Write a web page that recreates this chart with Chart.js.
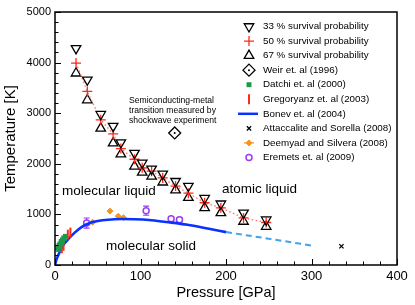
<!DOCTYPE html>
<html>
<head>
<meta charset="utf-8">
<script src="https://cdn.jsdelivr.net/npm/chart.js@4/dist/chart.umd.min.js"></script>
<style>
  html, body { margin: 0; padding: 0; background: #fff; }
</style>
</head>
<body>
<canvas id="chart" width="415" height="305"></canvas>
<script>
// ── Data ──
const survivalP = [24.6, 37.8, 53.5, 68, 77, 93, 102, 113, 126, 141, 156, 175, 194, 220.5, 247];
const t33 = [4280, 3660, 2980, 2745, 2420, 2210, 2020, 1900, 1800, 1655, 1560, 1320, 1210, 1030, 895];
const t50 = [3990, 3430, 2870, 2590, 2300, 2090, 1920, 1855, 1720, 1560, 1420, 1230, 1130, 930, 840];
const t67 = [3790, 3260, 2700, 2410, 2190, 1950, 1830, 1750, 1635, 1480, 1330, 1130, 1030, 860, 760];

const weirP = [140];
const weirT = [2610];

const datchiP = [3, 4, 4.5, 5.5, 6, 7, 7.5, 8.5, 9, 10, 11, 12];
const datchiT = [330, 300, 390, 420, 360, 470, 430, 500, 460, 540, 520, 570];

const gregP = [8, 10, 15, 18];
const gregT = [330, 380, 600, 640];

const bonevP = [0, 2, 4, 8, 15, 23, 31, 40, 50, 62, 78, 93, 110, 130, 155, 180, 200];
const bonevT = [0, 120, 200, 350, 500, 640, 750, 825, 868, 895, 908, 905, 890, 850, 795, 715, 650];
const bonevExtP = [200, 250, 300];
const bonevExtT = [650, 520, 385];

const attaP = [335];
const attaT = [370];

const deemP = [44, 64.4, 74, 80];
const deemT = [845, 1065, 965, 935];
const deemErrP = [3, 3, 3, 3];

const eremP = [37, 106.6, 135.8, 145.6];
const eremT = [829, 1073, 914, 895];
const eremErrT = [100, 90, 40, 40];

const xTicks = [0, 100, 200, 300, 400];
const yTicks = [0, 1000, 2000, 3000, 4000, 5000];

const COLORS = {
  black:  "#000000",
  red:    "#ff2a1a",
  redDot: "#ff7060",
  green:  "#1c9a48",
  blue:   "#0a32ff",
  blueLt: "#3fa3f0",
  orange: "#f5941e",
  purple: "#9a3cf5"
};

const FONT = "'Liberation Sans', Arial, Helvetica, sans-serif";

const pts = (xs, ys) => xs.map((x, i) => ({ x, y: ys[i] }));

// ── Legend entries (drawn inside the plot) ──
const legendItems = [
  { text: "33 % survival probability", style: "triangle", rotation: 180, radius: 5.5, stroke: COLORS.black, fill: "rgba(0,0,0,0)", bw: 1.3 },
  { text: "50 % survival probability", style: "cross", rotation: 0, radius: 5, stroke: COLORS.red, fill: "rgba(0,0,0,0)", bw: 1.3 },
  { text: "67 % survival probability", style: "triangle", rotation: 0, radius: 5.5, stroke: COLORS.black, fill: "rgba(0,0,0,0)", bw: 1.3 },
  { text: "Weir et. al (1996)", style: "rectRot", rotation: 0, radius: 6, stroke: COLORS.black, fill: "rgba(0,0,0,0)", bw: 1.3, dot: true },
  { text: "Datchi et. al (2000)", style: "rect", rotation: 0, radius: 3.5, stroke: COLORS.green, fill: COLORS.green, bw: 0 },
  { text: "Gregoryanz et. al (2003)", style: "line", rotation: 90, radius: 5, stroke: COLORS.red, fill: COLORS.red, bw: 2 },
  { text: "Bonev et. al (2004)", line: true, stroke: COLORS.blue },
  { text: "Attaccalite and Sorella (2008)", style: "crossRot", rotation: 0, radius: 3, stroke: COLORS.black, fill: COLORS.black, bw: 1.3 },
  { text: "Deemyad and Silvera (2008)", style: "rectRot", rotation: 0, radius: 3, stroke: COLORS.orange, fill: COLORS.orange, bw: 1, hbar: true },
  { text: "Eremets et. al (2009)", style: "circle", rotation: 0, radius: 3, stroke: COLORS.purple, fill: "rgba(0,0,0,0)", bw: 1.5 }
];

// ── Plugin: frame, inward ticks, error bars, annotations, legend ──
const decor = {
  id: "decor",
  beforeDatasetsDraw(chart) {
    const { ctx, scales: { x, y } } = chart;
    ctx.save();
    // Eremets vertical error bars
    ctx.strokeStyle = COLORS.purple;
    ctx.lineWidth = 1.2;
    eremP.forEach((p, i) => {
      const px = x.getPixelForValue(p);
      const y1 = y.getPixelForValue(eremT[i] - eremErrT[i]);
      const y2 = y.getPixelForValue(eremT[i] + eremErrT[i]);
      ctx.beginPath();
      ctx.moveTo(px, y1); ctx.lineTo(px, y2);
      ctx.moveTo(px - 3, y1); ctx.lineTo(px + 3, y1);
      ctx.moveTo(px - 3, y2); ctx.lineTo(px + 3, y2);
      ctx.stroke();
    });
    // Deemyad horizontal error bars
    ctx.strokeStyle = COLORS.orange;
    deemP.forEach((p, i) => {
      const py = y.getPixelForValue(deemT[i]);
      ctx.beginPath();
      ctx.moveTo(x.getPixelForValue(p - deemErrP[i]), py);
      ctx.lineTo(x.getPixelForValue(p + deemErrP[i]), py);
      ctx.stroke();
    });
    ctx.restore();
  },
  afterDraw(chart) {
    const { ctx, chartArea: a, scales: { x, y } } = chart;
    ctx.save();
    ctx.strokeStyle = "#000";
    ctx.lineWidth = 1;
    // inward ticks
    for (let v = 0; v <= 400; v += 20) {
      const px = Math.round(x.getPixelForValue(v)) + 0.5;
      const len = v % 100 === 0 ? 6 : 3.5;
      ctx.beginPath(); ctx.moveTo(px, a.bottom); ctx.lineTo(px, a.bottom - len); ctx.stroke();
    }
    for (let v = 0; v <= 5000; v += 200) {
      const py = Math.round(y.getPixelForValue(v)) + 0.5;
      const len = v % 1000 === 0 ? 6 : 3.5;
      ctx.beginPath(); ctx.moveTo(a.left, py); ctx.lineTo(a.left + len, py); ctx.stroke();
    }
    // frame
    ctx.lineWidth = 1.5;
    ctx.strokeRect(a.left, a.top, a.right - a.left, a.bottom - a.top);

    // annotations
    ctx.fillStyle = "#000";
    ctx.textBaseline = "middle";
    ctx.textAlign = "left";
    ctx.font = "13.5px " + FONT;
    ctx.fillText("molecular liquid", 62, 191);
    ctx.fillText("atomic liquid", 222, 189);
    ctx.fillText("molecular solid", 106, 246);
    ctx.font = "8.6px " + FONT;
    ctx.fillText("Semiconducting-metal", 129, 101);
    ctx.fillText("transition measured by", 129, 111);
    ctx.fillText("shockwave experiment", 129, 121);

    // legend
    const sx = 249, tx = 263;
    legendItems.forEach((it, i) => {
      const ly = 26.5 + i * 14.55;
      ctx.font = "9.8px " + FONT;
      ctx.fillStyle = "#000";
      ctx.fillText(it.text, tx, ly);
      if (it.line) {
        ctx.strokeStyle = it.stroke;
        ctx.lineWidth = 2.5;
        ctx.beginPath(); ctx.moveTo(238, ly); ctx.lineTo(258, ly); ctx.stroke();
        return;
      }
      if (it.hbar) {
        ctx.strokeStyle = it.stroke;
        ctx.lineWidth = 1.2;
        ctx.beginPath(); ctx.moveTo(sx - 5, ly); ctx.lineTo(sx + 5, ly); ctx.stroke();
      }
      ctx.strokeStyle = it.stroke;
      ctx.fillStyle = it.fill;
      ctx.lineWidth = it.bw;
      Chart.helpers.drawPoint(ctx, { pointStyle: it.style, rotation: it.rotation, radius: it.radius, borderWidth: it.bw }, sx, ly);
      if (it.dot) {
        ctx.fillStyle = "#000";
        ctx.beginPath(); ctx.arc(sx, ly, 1, 0, Math.PI * 2); ctx.fill();
      }
    });
    ctx.restore();
  }
};

const open = "rgba(0,0,0,0)";

new Chart(document.getElementById("chart"), {
  type: "scatter",
  data: {
    datasets: [
      { label: "33 %", data: pts(survivalP, t33), pointStyle: "triangle", rotation: 180, pointRadius: 5.5,
        borderColor: COLORS.black, backgroundColor: open, borderWidth: 1.3 },
      { label: "50 %", data: pts(survivalP, t50), pointStyle: "cross", pointRadius: 5, showLine: true,
        borderColor: COLORS.red, backgroundColor: COLORS.red, borderWidth: 1.3,
        segment: { borderColor: COLORS.redDot }, borderDash: [1.5, 2.5] },
      { label: "67 %", data: pts(survivalP, t67), pointStyle: "triangle", pointRadius: 5.5,
        borderColor: COLORS.black, backgroundColor: open, borderWidth: 1.3 },
      { label: "Weir", data: pts(weirP, weirT), pointStyle: "rectRot", pointRadius: 6,
        borderColor: COLORS.black, backgroundColor: open, borderWidth: 1.3 },
      { label: "Weir dot", data: pts(weirP, weirT), pointStyle: "circle", pointRadius: 1,
        borderColor: COLORS.black, backgroundColor: COLORS.black, borderWidth: 0 },
      { label: "Datchi", data: pts(datchiP, datchiT), pointStyle: "rect", pointRadius: 3.2,
        borderColor: COLORS.green, backgroundColor: COLORS.green, borderWidth: 0 },
      { label: "Gregoryanz", data: pts(gregP, gregT), pointStyle: "line", rotation: 90, pointRadius: 5,
        borderColor: COLORS.red, backgroundColor: COLORS.red, borderWidth: 2 },
      { label: "Bonev", data: pts(bonevP, bonevT), showLine: true, pointRadius: 0,
        borderColor: COLORS.blue, borderWidth: 2.6, cubicInterpolationMode: "monotone" },
      { label: "Bonev ext", data: pts(bonevExtP, bonevExtT), showLine: true, pointRadius: 0,
        borderColor: COLORS.blueLt, borderWidth: 2, borderDash: [6, 4] },
      { label: "Attaccalite", data: pts(attaP, attaT), pointStyle: "crossRot", pointRadius: 3,
        borderColor: COLORS.black, borderWidth: 1.3 },
      { label: "Deemyad", data: pts(deemP, deemT), pointStyle: "rectRot", pointRadius: 3,
        borderColor: COLORS.orange, backgroundColor: COLORS.orange, borderWidth: 1 },
      { label: "Eremets", data: pts(eremP, eremT), pointStyle: "circle", pointRadius: 3,
        borderColor: COLORS.purple, backgroundColor: "#fff", borderWidth: 1.5 }
    ]
  },
  options: {
    responsive: false,
    animation: false,
    layout: { padding: { left: 0, right: 18, top: 12, bottom: 0 } },
    plugins: { legend: { display: false }, tooltip: { enabled: false } },
    scales: {
      x: {
        type: "linear", min: 0, max: 400,
        afterBuildTicks: s => { s.ticks = xTicks.map(v => ({ value: v })); },
        afterFit: s => { s.height = 40; },
        grid: { display: false, drawTicks: false },
        border: { display: false },
        ticks: { color: "#000", padding: 4, font: { family: FONT, size: 13 }, callback: v => String(v) },
        title: { display: true, text: "Pressure [GPa]", color: "#000", padding: { top: 0, bottom: 3 },
                 font: { family: FONT, size: 14.5 } }
      },
      y: {
        type: "linear", min: 0, max: 5000,
        afterBuildTicks: s => { s.ticks = yTicks.map(v => ({ value: v })); },
        afterFit: s => { s.width = 55; },
        grid: { display: false, drawTicks: false },
        border: { display: false },
        ticks: { color: "#000", padding: 4, font: { family: FONT, size: 11 }, callback: v => String(v) },
        title: { display: true, text: "Temperature [K]", color: "#000", padding: { top: 2, bottom: 0 },
                 font: { family: FONT, size: 15 } }
      }
    }
  },
  plugins: [decor]
});
</script>
</body>
</html>
